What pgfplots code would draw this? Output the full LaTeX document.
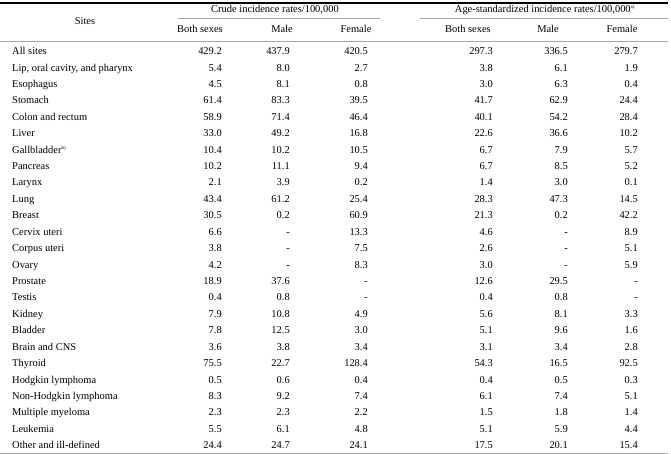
\documentclass[border=0pt]{standalone}
\usepackage{fontspec}
\setmainfont{Liberation Serif}
\usepackage{pgfplots}
\usepackage{pgfplotstable}
\pgfplotsset{compat=1.18}

\pgfplotstableread[col sep=semicolon]{
site;cb;cm;cf;ab;am;af
All sites;429.2;437.9;420.5;297.3;336.5;279.7
Lip, oral cavity, and pharynx;5.4;8.0;2.7;3.8;6.1;1.9
Esophagus;4.5;8.1;0.8;3.0;6.3;0.4
Stomach;61.4;83.3;39.5;41.7;62.9;24.4
Colon and rectum;58.9;71.4;46.4;40.1;54.2;28.4
Liver;33.0;49.2;16.8;22.6;36.6;10.2
{Gallbladder\textsuperscript{\tiny b)}};10.4;10.2;10.5;6.7;7.9;5.7
Pancreas;10.2;11.1;9.4;6.7;8.5;5.2
Larynx;2.1;3.9;0.2;1.4;3.0;0.1
Lung;43.4;61.2;25.4;28.3;47.3;14.5
Breast;30.5;0.2;60.9;21.3;0.2;42.2
Cervix uteri;6.6;-;13.3;4.6;-;8.9
Corpus uteri;3.8;-;7.5;2.6;-;5.1
Ovary;4.2;-;8.3;3.0;-;5.9
Prostate;18.9;37.6;-;12.6;29.5;-
Testis;0.4;0.8;-;0.4;0.8;-
Kidney;7.9;10.8;4.9;5.6;8.1;3.3
Bladder;7.8;12.5;3.0;5.1;9.6;1.6
Brain and CNS;3.6;3.8;3.4;3.1;3.4;2.8
Thyroid;75.5;22.7;128.4;54.3;16.5;92.5
Hodgkin lymphoma;0.5;0.6;0.4;0.4;0.5;0.3
Non-Hodgkin lymphoma;8.3;9.2;7.4;6.1;7.4;5.1
Multiple myeloma;2.3;2.3;2.2;1.5;1.8;1.4
Leukemia;5.5;6.1;4.8;5.1;5.9;4.4
Other and ill-defined;24.4;24.7;24.1;17.5;20.1;15.4
}\datatable

\pgfplotstableread[col sep=semicolon]{
x;y;t
85;24.6;Sites
275;12.6;Crude incidence rates/100,000
545;12.6;{Age-standardized incidence rates/100,000\textsuperscript{\tiny a)}}
200;32.6;Both sexes
282;32.6;Male
356;32.6;Female
468;32.6;Both sexes
548;32.6;Male
622;32.6;Female
}\headtable

\begin{document}
\begin{tikzpicture}
\useasboundingbox (0,0) rectangle (671bp,454bp);
\begin{axis}[
  at={(0,0)}, anchor=south west,
  width=671bp, height=454bp, scale only axis,
  hide axis, clip=false,
  xmin=0, xmax=671, ymin=0, ymax=454, y dir=reverse,
  every node near coord/.append style={inner sep=0pt, font=\fontsize{10.5}{12}\selectfont, text=black},
]
% rules
\addplot[black, line width=1.1bp] coordinates {(0,3) (668,3)};
\addplot[gray!70, line width=0.6bp] coordinates {(178,18) (380,18)};
\addplot[gray!70, line width=0.6bp] coordinates {(420,18) (668,18)};
\addplot[gray!70, line width=0.6bp] coordinates {(0,41) (668,41)};
\addplot[gray!70, line width=1bp] coordinates {(0,453) (668,453)};
% headers
\addplot[draw=none, mark=none, nodes near coords, point meta=explicit symbolic,
  nodes near coords style={anchor=base}] table[x=x, y=y, meta=t] {\headtable};
% site names
\addplot[draw=none, mark=none, nodes near coords, point meta=explicit symbolic,
  nodes near coords style={anchor=base west}] table[x expr=12, y expr=54.6+16.42*\coordindex, meta=site] {\datatable};
% numbers
\addplot[draw=none, mark=none, nodes near coords, point meta=explicit symbolic,
  nodes near coords style={anchor=base east}] table[x expr=222, y expr=54.6+16.42*\coordindex, meta=cb] {\datatable};
\addplot[draw=none, mark=none, nodes near coords, point meta=explicit symbolic,
  nodes near coords style={anchor=base east}] table[x expr=290, y expr=54.6+16.42*\coordindex, meta=cm] {\datatable};
\addplot[draw=none, mark=none, nodes near coords, point meta=explicit symbolic,
  nodes near coords style={anchor=base east}] table[x expr=368, y expr=54.6+16.42*\coordindex, meta=cf] {\datatable};
\addplot[draw=none, mark=none, nodes near coords, point meta=explicit symbolic,
  nodes near coords style={anchor=base east}] table[x expr=493, y expr=54.6+16.42*\coordindex, meta=ab] {\datatable};
\addplot[draw=none, mark=none, nodes near coords, point meta=explicit symbolic,
  nodes near coords style={anchor=base east}] table[x expr=568, y expr=54.6+16.42*\coordindex, meta=am] {\datatable};
\addplot[draw=none, mark=none, nodes near coords, point meta=explicit symbolic,
  nodes near coords style={anchor=base east}] table[x expr=638, y expr=54.6+16.42*\coordindex, meta=af] {\datatable};
\end{axis}
\end{tikzpicture}
\end{document}
